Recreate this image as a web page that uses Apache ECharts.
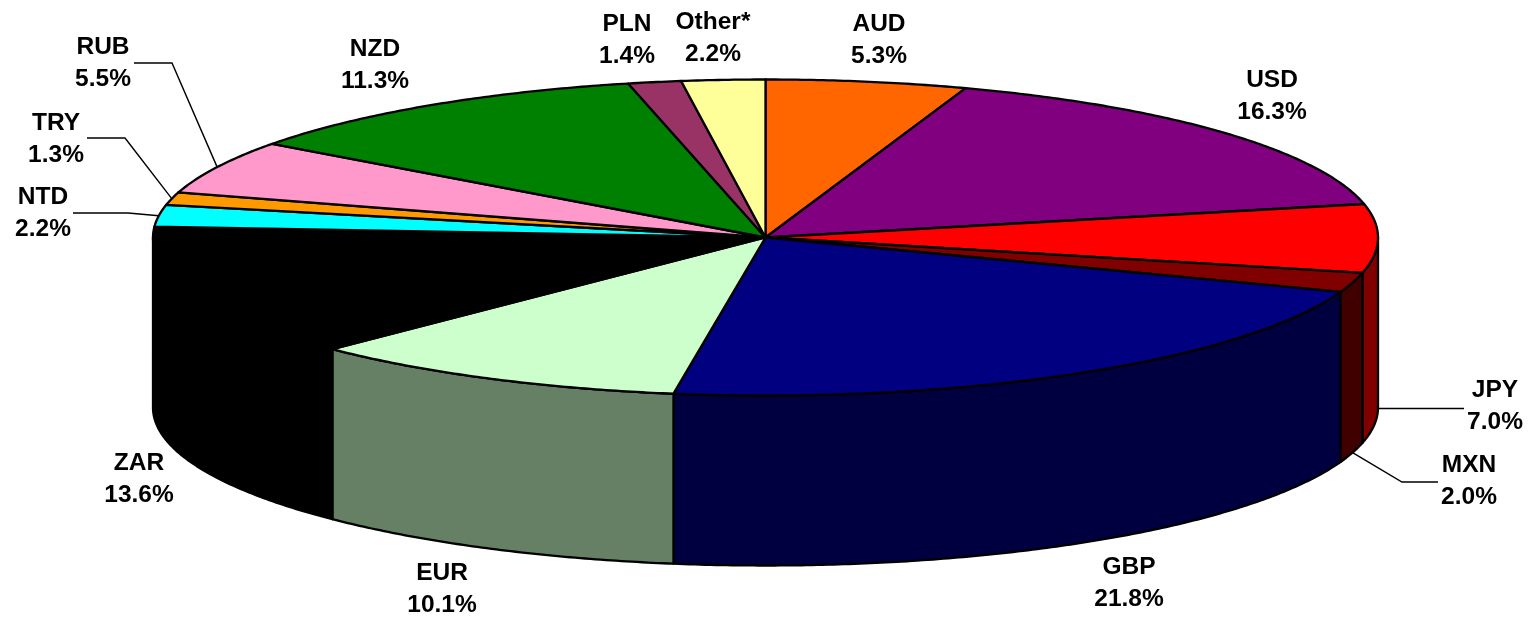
<!DOCTYPE html>
<html>
<head>
<meta charset="utf-8">
<title>Currency share</title>
<script src="https://cdn.jsdelivr.net/npm/echarts@6/dist/echarts.min.js"></script>
<style>
  html, body { margin: 0; padding: 0; background: #fff; }
  #chart { width: 1533px; height: 617px; }
</style>
</head>
<body>
<div id="chart"></div>
<script>
// clockwise from 12 o'clock
const currencies = ['AUD', 'USD', 'JPY', 'MXN', 'GBP', 'EUR', 'ZAR', 'NTD', 'TRY', 'RUB', 'NZD', 'PLN', 'Other*']
const shares = [5.3, 16.3, 7.0, 2.0, 21.8, 10.1, 13.6, 2.2, 1.3, 5.5, 11.3, 1.4, 2.2]
const colors = ['#ff6600', '#800080', '#ff0000', '#800000', '#000080', '#ccffcc', '#000000', '#00ffff', '#ff9900', '#ff99cc', '#008000', '#993366', '#ffff99']

// wall colours are the top colours at half brightness, except EUR which the picture shows greyer
const wallColors = ['#803300', '#400040', '#800000', '#400000', '#000040', '#668066', '#000000', '#008080', '#804d00', '#804d66', '#004000', '#4d1a33', '#80804d']

// label centres, and the leader path from slice rim out to the label (null = no leader)
const labelCenters = [[879, 40], [1272, 96], [1495, 406], [1469, 481], [1129, 583], [442, 589], [139, 479], [43, 213], [56, 139], [103, 63], [375, 65], [627, 40], [713, 38]]
const leaders = [null, null, [[1464, 408.5]], [[1402, 482], [1438, 482]], null, null, null, [[128, 213], [73, 213]], [[125, 138], [87, 138]], [[172, 63], [134, 63]], null, null, null]

const CX = 765.5
const CY = 237.5
const RX = 612.5
const RY = 158
const DEPTH = 170
const FONT = 'bold 24.5px "Liberation Sans", Arial, sans-serif'

const total = shares.reduce((a, b) => a + b, 0)
const starts = []
let acc = 0
shares.forEach(v => { starts.push(acc / total * 360); acc += v })
const angleEnd = i => starts[i] + shares[i] / total * 360

function rim(deg, dy) {
  const r = deg * Math.PI / 180
  return [CX + RX * Math.sin(r), CY - RY * Math.cos(r) + (dy || 0)]
}

function arc(a0, a1, dy) {
  const pts = []
  const n = Math.max(2, Math.ceil(Math.abs(a1 - a0) * 2))
  for (let k = 0; k <= n; k++) pts.push(rim(a0 + (a1 - a0) * k / n, dy))
  return pts
}

function renderWall(params) {
  const i = params.dataIndex
  const a0 = Math.max(starts[i], 90)
  const a1 = Math.min(angleEnd(i), 270)
  if (a1 <= a0) return { type: 'group', children: [] }
  return {
    type: 'polygon',
    shape: { points: arc(a0, a1, 0).concat(arc(a1, a0, DEPTH)) },
    style: { fill: wallColors[i], stroke: '#000', lineWidth: 2.3, lineJoin: 'round' }
  }
}

function renderTop(params) {
  const i = params.dataIndex
  return {
    type: 'polygon',
    shape: { points: [[CX, CY]].concat(arc(starts[i], angleEnd(i), 0)) },
    style: { fill: colors[i], stroke: '#000', lineWidth: 2.3, lineJoin: 'round' }
  }
}

function renderLabel(params) {
  const i = params.dataIndex
  const children = []
  if (leaders[i]) {
    const mid = (starts[i] + angleEnd(i)) / 2
    const from = rim(mid, mid > 90 && mid < 270 ? DEPTH : 0)
    children.push({
      type: 'polyline',
      shape: { points: [from].concat(leaders[i]) },
      style: { fill: 'none', stroke: '#000', lineWidth: 1.4 }
    })
  }
  children.push({
    type: 'text',
    style: {
      text: currencies[i] + '\n' + shares[i].toFixed(1) + '%',
      x: labelCenters[i][0],
      y: labelCenters[i][1],
      align: 'center',
      verticalAlign: 'middle',
      font: FONT,
      lineHeight: 32,
      fill: '#000'
    }
  })
  return { type: 'group', children }
}

const chart = echarts.init(document.getElementById('chart'), null, { renderer: 'canvas' })
const rows = currencies.map((c, i) => [i, shares[i]])
chart.setOption({
  backgroundColor: '#fff',
  animation: false,
  series: [
    { type: 'custom', coordinateSystem: 'none', z: 1, silent: true, data: rows, renderItem: renderWall },
    { type: 'custom', coordinateSystem: 'none', z: 2, silent: true, data: rows, renderItem: renderTop },
    { type: 'custom', coordinateSystem: 'none', z: 3, silent: true, data: rows, renderItem: renderLabel }
  ]
})
</script>
</body>
</html>
